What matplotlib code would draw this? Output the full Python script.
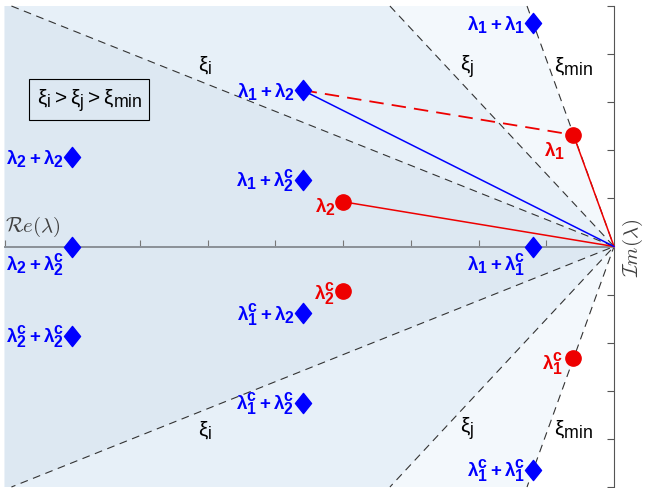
import matplotlib
matplotlib.use("Agg")
import matplotlib.pyplot as plt
import matplotlib._mathtext as mt
from matplotlib.path import Path

# MATLAB-style TeX labels keep sub/superscripts nearly full size
mt.SHRINK_FACTOR = 0.85

plt.rcParams['font.family'] = ['Liberation Sans', 'DejaVu Sans']
plt.rcParams['mathtext.fontset'] = 'custom'
plt.rcParams['mathtext.rm'] = 'Liberation Sans'
plt.rcParams['mathtext.it'] = 'Liberation Sans:italic'
plt.rcParams['mathtext.bf'] = 'Liberation Sans:bold'

# --- data ----------------------------------------------------------------
# eigenvalues (red circles)
eig_re = [-0.6, -0.6, -4.0, -4.0]
eig_im = [2.32, -2.32, 0.93, -0.93]
eig_labels = [r'$\mathbf{\lambda_1}$', r'$\mathbf{\lambda^c_1}$',
              r'$\mathbf{\lambda_2}$', r'$\mathbf{\lambda^c_2}$']

# pairwise sums (blue diamonds)
sum_re = [-1.2, -1.2, -1.2, -4.6, -4.6, -4.6, -4.6, -8.0, -8.0, -8.0]
sum_im = [4.64, 0.0, -4.64, 3.25, 1.39, -1.39, -3.25, 1.86, 0.0, -1.86]
sum_labels = [r'$\mathbf{\lambda_1+\lambda_1}$',
              r'$\mathbf{\lambda_1+\lambda^c_1}$',
              r'$\mathbf{\lambda^c_1+\lambda^c_1}$',
              r'$\mathbf{\lambda_1+\lambda_2}$',
              r'$\mathbf{\lambda_1+\lambda^c_2}$',
              r'$\mathbf{\lambda^c_1+\lambda_2}$',
              r'$\mathbf{\lambda^c_1+\lambda^c_2}$',
              r'$\mathbf{\lambda_2+\lambda_2}$',
              r'$\mathbf{\lambda_2+\lambda^c_2}$',
              r'$\mathbf{\lambda^c_2+\lambda^c_2}$']

# constant damping rays: end point on the top edge (mirrored below)
ray_re = [-8.9, -3.31, -1.285]
ray_im = [5.0, 5.0, 5.0]
ray_names = [r'$\mathrm{\xi_i}$', r'$\mathrm{\xi_j}$', r'$\mathrm{\xi_{min}}$']
ray_label_re = [-6.04, -2.17, -0.60]
ray_label_im = [3.79, 3.77, 3.77]
shade = ['#dde8f2', '#e7f0f8', '#f3f8fc']

re_min, im_max = -9.0, 5.0

# --- figure ---------------------------------------------------------------
fig = plt.figure(figsize=(6.47, 4.89), dpi=100)
ax = fig.add_axes([0, 0, 1, 1])
ax.set_xlim(-9.069, 0.487)
ax.set_ylim(-5.021, 5.146)

# shaded wedges, widest (least damped) first
for r, i, c in reversed(list(zip(ray_re, ray_im, shade))):
    ax.fill([0, r, re_min, re_min, r], [0, i, im_max, -im_max, -i],
            color=c, lw=0, zorder=0)

for r, i in zip(ray_re, ray_im):
    ax.plot([r, 0, r], [i, 0, -i], color='#333333', lw=0.8,
            dashes=(7, 5), zorder=2)
for x, y, s in zip(ray_label_re, ray_label_im, ray_names):
    for sgn in (1, -1):
        ax.text(x, sgn * y, s, fontsize=15, ha='center', va='center', zorder=5)

# axes through the origin
for s in ('left', 'top'):
    ax.spines[s].set_visible(False)
ax.spines['bottom'].set_position(('data', 0))
ax.spines['bottom'].set_bounds(re_min, 0)
ax.spines['bottom'].set_color('#8a9097')
ax.spines['bottom'].set_linewidth(1.4)
ax.spines['right'].set_position(('data', 0))
ax.spines['right'].set_bounds(-im_max, im_max)
ax.spines['right'].set_color('#555555')
ax.spines['right'].set_linewidth(0.8)
ax.xaxis.set_ticks_position('bottom')
ax.yaxis.set_ticks_position('right')
ax.set_xticks(range(-9, 0))
ax.set_yticks([-5, -4, -3, -2, -1, 1, 2, 3, 4, 5])
ax.tick_params(axis='x', direction='in', length=5, width=0.8, color='#777777',
               labelbottom=False)
ax.tick_params(axis='y', direction='in', length=5, width=0.8, color='#555555',
               labelright=False)
for sp in ax.spines.values():
    sp.set_zorder(3)

ax.text(re_min, 0.18, r'$\mathcal{R}e(\lambda)$', math_fontfamily='cm',
        fontsize=15, color='#404040', ha='left', va='bottom')
ax.text(0.28, 0, r'$\mathcal{I}m(\lambda)$', math_fontfamily='cm',
        fontsize=15, color='#404040', rotation=90, ha='center', va='center')

# construction lines
red, blue = '#ee0000', '#0000ff'
ax.plot([0, eig_re[0]], [0, eig_im[0]], color=red, lw=1.1, zorder=4)
ax.plot([0, eig_re[2]], [0, eig_im[2]], color=red, lw=1.1, zorder=4)
ax.plot([0, sum_re[3]], [0, sum_im[3]], color=blue, lw=1.1, zorder=4)
ax.plot([sum_re[3], eig_re[0]], [sum_im[3], eig_im[0]], color=red, lw=1.3,
        dashes=(8, 4.5), zorder=4)

# markers
diamond = Path([(0, 1), (0.8, 0), (0, -1), (-0.8, 0), (0, 1)],
               [Path.MOVETO, Path.LINETO, Path.LINETO, Path.LINETO, Path.CLOSEPOLY])
ax.plot(sum_re, sum_im, ls='none', marker=diamond, ms=14.5, color=blue,
        mec=blue, zorder=6)
ax.plot(eig_re, eig_im, ls='none', marker='o', ms=11, color=red, mec=red,
        zorder=6)

sum_offsets = [(-8, 0), (-8, -17), (-8, 0), (-8, 0), (-8, 0),
               (-8, 0), (-8, 0), (-8, 0), (-8, -17), (-8, 0)]
for x, y, s, off in zip(sum_re, sum_im, sum_labels, sum_offsets):
    ax.annotate(s, (x, y), xytext=off, textcoords='offset pixels',
                ha='right', va='center', fontsize=13.5, color=blue, zorder=7)

eig_offsets = [(-19, -15), (-21, -4), (-18, -4), (-19, -1)]
for x, y, s, off in zip(eig_re, eig_im, eig_labels, eig_offsets):
    ax.annotate(s, (x, y), xytext=off, textcoords='offset pixels',
                ha='center', va='center', fontsize=13.5, color=red, zorder=7)

ax.text(-7.75, 3.06, r'$\mathrm{\xi_i > \xi_j > \xi_{min}}$', fontsize=15,
        ha='center', va='center', zorder=7,
        bbox=dict(boxstyle='square,pad=0.35', fc='none', ec='black', lw=0.8))

fig.savefig('out.png', dpi=100)
